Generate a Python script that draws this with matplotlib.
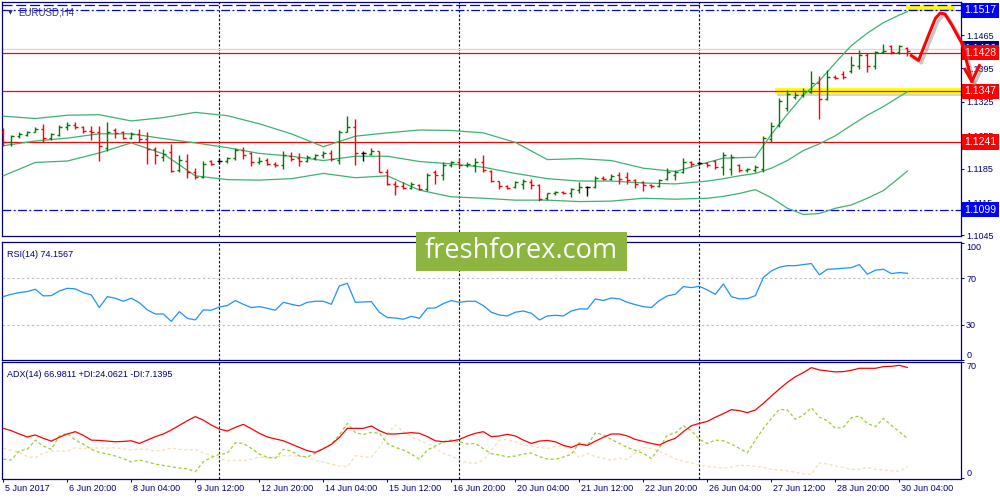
import matplotlib
matplotlib.use("Agg")
import matplotlib.pyplot as plt
import matplotlib.patheffects as pe
from matplotlib.patches import Rectangle
from matplotlib.transforms import blended_transform_factory, ScaledTranslation

plt.rcParams['font.family'] = ['Liberation Sans', 'DejaVu Sans']

# EURUSD H4, one value per bar, bar 0 = 5 Jun 2017 12:00
opens = [1.1262, 1.1240, 1.1254, 1.1256, 1.1262, 1.1268, 1.1250, 1.1256, 1.1272, 1.1277,
         1.1272, 1.1264, 1.1261, 1.1228, 1.1267, 1.1261, 1.1250, 1.1257, 1.1248, 1.1227,
         1.1209, 1.1220, 1.1182, 1.1202, 1.1177, 1.1168, 1.1200, 1.1202, 1.1202, 1.1207,
         1.1225, 1.1217, 1.1198, 1.1204, 1.1195, 1.1193, 1.1211, 1.1207, 1.1202, 1.1207,
         1.1213, 1.1218, 1.1204, 1.1262, 1.1272, 1.1218, 1.1216, 1.1221, 1.1179, 1.1153,
         1.1149, 1.1145, 1.1150, 1.1142, 1.1177, 1.1171, 1.1192, 1.1198, 1.1192, 1.1193,
         1.1199, 1.1180, 1.1159, 1.1149, 1.1147, 1.1153, 1.1157, 1.1150, 1.1123, 1.1133,
         1.1136, 1.1135, 1.1140, 1.1147, 1.1147, 1.1166, 1.1163, 1.1171, 1.1168, 1.1161,
         1.1156, 1.1151, 1.1149, 1.1163, 1.1171, 1.1178, 1.1198, 1.1196, 1.1196, 1.1200,
         1.1188, 1.1185, 1.1192, 1.1182, 1.1182, 1.1185, 1.1247, 1.1277, 1.1313, 1.1336,
         1.1339, 1.1346, 1.1365, 1.1332, 1.1378, 1.1384, 1.1389, 1.1401, 1.1424, 1.1400,
         1.1429, 1.1441, 1.1429, 1.1438]
highs = [1.1271, 1.1255, 1.1262, 1.1264, 1.1273, 1.1278, 1.1260, 1.1277, 1.1283, 1.1282,
         1.1275, 1.1275, 1.1275, 1.1282, 1.1271, 1.1264, 1.1261, 1.1268, 1.1261, 1.1230,
         1.1227, 1.1237, 1.1214, 1.1216, 1.1187, 1.1201, 1.1204, 1.1207, 1.1210, 1.1228,
         1.1230, 1.1220, 1.1209, 1.1207, 1.1199, 1.1223, 1.1220, 1.1218, 1.1213, 1.1216,
         1.1221, 1.1225, 1.1267, 1.1296, 1.1290, 1.1222, 1.1228, 1.1223, 1.1184, 1.1159,
         1.1157, 1.1156, 1.1153, 1.1175, 1.1182, 1.1199, 1.1201, 1.1207, 1.1199, 1.1207,
         1.1213, 1.1182, 1.1160, 1.1151, 1.1159, 1.1164, 1.1164, 1.1153, 1.1135, 1.1138,
         1.1138, 1.1145, 1.1156, 1.1149, 1.1170, 1.1170, 1.1173, 1.1177, 1.1177, 1.1164,
         1.1159, 1.1153, 1.1164, 1.1187, 1.1182, 1.1207, 1.1202, 1.1200, 1.1199, 1.1204,
         1.1220, 1.1216, 1.1195, 1.1187, 1.1193, 1.1254, 1.1283, 1.1334, 1.1350, 1.1345,
         1.1355, 1.1389, 1.1380, 1.1391, 1.1382, 1.1389, 1.1421, 1.1434, 1.1427, 1.1431,
         1.1447, 1.1445, 1.1445, 1.1440]
lows = [1.1233, 1.1232, 1.1250, 1.1253, 1.1261, 1.1240, 1.1244, 1.1254, 1.1267, 1.1268,
        1.1260, 1.1244, 1.1202, 1.1223, 1.1250, 1.1247, 1.1247, 1.1240, 1.1194, 1.1194,
        1.1200, 1.1178, 1.1179, 1.1166, 1.1164, 1.1166, 1.1192, 1.1195, 1.1197, 1.1203,
        1.1206, 1.1190, 1.1194, 1.1192, 1.1188, 1.1184, 1.1200, 1.1190, 1.1199, 1.1204,
        1.1207, 1.1201, 1.1195, 1.1261, 1.1192, 1.1202, 1.1213, 1.1177, 1.1150, 1.1129,
        1.1142, 1.1142, 1.1140, 1.1138, 1.1153, 1.1162, 1.1188, 1.1188, 1.1188, 1.1179,
        1.1177, 1.1156, 1.1143, 1.1142, 1.1145, 1.1142, 1.1142, 1.1118, 1.1119, 1.1129,
        1.1131, 1.1126, 1.1135, 1.1128, 1.1145, 1.1161, 1.1161, 1.1153, 1.1153, 1.1145,
        1.1138, 1.1145, 1.1147, 1.1161, 1.1161, 1.1175, 1.1188, 1.1192, 1.1188, 1.1184,
        1.1171, 1.1171, 1.1177, 1.1178, 1.1179, 1.1179, 1.1241, 1.1272, 1.1306, 1.1330,
        1.1336, 1.1343, 1.1290, 1.1329, 1.1373, 1.1373, 1.1385, 1.1394, 1.1387, 1.1394,
        1.1427, 1.1426, 1.1426, 1.1422]
closes = [1.1240, 1.1254, 1.1257, 1.1261, 1.1268, 1.1250, 1.1257, 1.1272, 1.1277, 1.1272,
          1.1263, 1.1261, 1.1233, 1.1261, 1.1260, 1.1250, 1.1257, 1.1248, 1.1227, 1.1213,
          1.1216, 1.1180, 1.1204, 1.1177, 1.1168, 1.1195, 1.1195, 1.1202, 1.1207, 1.1225,
          1.1214, 1.1198, 1.1202, 1.1195, 1.1192, 1.1213, 1.1206, 1.1202, 1.1209, 1.1213,
          1.1218, 1.1206, 1.1261, 1.1272, 1.1218, 1.1218, 1.1221, 1.1179, 1.1153, 1.1149,
          1.1145, 1.1153, 1.1142, 1.1172, 1.1172, 1.1192, 1.1198, 1.1193, 1.1195, 1.1198,
          1.1182, 1.1159, 1.1149, 1.1145, 1.1156, 1.1159, 1.1151, 1.1121, 1.1133, 1.1136,
          1.1133, 1.1142, 1.1147, 1.1147, 1.1166, 1.1163, 1.1170, 1.1164, 1.1161, 1.1153,
          1.1150, 1.1149, 1.1161, 1.1179, 1.1178, 1.1199, 1.1195, 1.1196, 1.1192, 1.1188,
          1.1213, 1.1209, 1.1182, 1.1184, 1.1188, 1.1249, 1.1275, 1.1327, 1.1341, 1.1339,
          1.1348, 1.1365, 1.1332, 1.1377, 1.1375, 1.1377, 1.1403, 1.1424, 1.1401, 1.1429,
          1.1431, 1.1429, 1.1441, 1.1431]

# Bollinger bands, read at selected bars
band_bars = list(range(0, 88, 4)) + list(range(88, 113, 2)) + [113]
bb_upper = [1.1295, 1.1290, 1.1297, 1.1298, 1.1285, 1.1292, 1.1303, 1.1296, 1.1279, 1.1258,
            1.1231, 1.1253, 1.1260, 1.1266, 1.1265, 1.1260, 1.1240, 1.1204, 1.1206, 1.1202,
            1.1186, 1.1179, 1.1198, 1.1207, 1.1208, 1.1209, 1.1257, 1.1299, 1.1339, 1.1369,
            1.1407, 1.1443, 1.1469, 1.1491, 1.1507, 1.1514]
bb_middle = [1.1233, 1.1243, 1.1249, 1.1258, 1.1258, 1.1248, 1.1239, 1.1229, 1.1217, 1.1211,
             1.1202, 1.1211, 1.1211, 1.1200, 1.1195, 1.1188, 1.1175, 1.1164, 1.1159, 1.1159,
             1.1155, 1.1153, 1.1159, 1.1164, 1.1170, 1.1175, 1.1186, 1.1202, 1.1223, 1.1237,
             1.1254, 1.1276, 1.1297, 1.1315, 1.1336, 1.1346]
bb_lower = [1.1170, 1.1198, 1.1201, 1.1218, 1.1239, 1.1216, 1.1170, 1.1162, 1.1161, 1.1164,
            1.1175, 1.1166, 1.1170, 1.1140, 1.1126, 1.1123, 1.1119, 1.1119, 1.1116, 1.1117,
            1.1123, 1.1121, 1.1123, 1.1127, 1.1133, 1.1141, 1.1124, 1.1102, 1.1089, 1.1091,
            1.1102, 1.1109, 1.1123, 1.1139, 1.1166, 1.1180]

rsi = [54.3, 56.3, 57.7, 58.6, 60.6, 54.9, 55.1, 59.1, 61.4, 60.9,
       57.7, 55.7, 44.9, 54.3, 52.9, 50.3, 52.9, 49.1, 42.9, 39.4,
       39.4, 33.1, 41.4, 35.7, 34.3, 42.9, 42.6, 45.4, 46.6, 50.9,
       47.7, 44.9, 45.7, 44.3, 42.6, 49.4, 47.7, 46.3, 49.4, 50.3,
       50.3, 47.7, 63.4, 65.7, 49.4, 49.7, 50.0, 40.9, 36.3, 36.0,
       34.9, 37.4, 35.7, 44.3, 44.6, 48.3, 50.9, 49.4, 50.3, 50.3,
       46.6, 40.9, 38.6, 37.7, 40.9, 42.0, 40.0, 34.3, 37.7, 38.3,
       37.7, 42.0, 43.7, 43.7, 52.3, 50.9, 53.1, 52.3, 49.4, 47.4,
       45.7, 44.9, 50.9, 54.9, 56.3, 62.9, 62.0, 63.1, 60.0, 56.3,
       65.1, 54.3, 52.3, 52.6, 55.1, 70.6, 76.3, 79.4, 80.8, 80.8,
       81.7, 82.6, 72.9, 77.7, 78.0, 78.6, 79.1, 81.7, 73.4, 76.9,
       77.7, 74.0, 74.9, 74.2]

adx = [30.2, 28.8, 26.8, 25.0, 26.2, 24.2, 22.5, 24.8, 26.8, 28.2,
       26.0, 23.1, 22.9, 22.5, 22.1, 22.3, 22.7, 21.1, 23.1, 25.2,
       26.8, 29.2, 32.0, 34.8, 37.3, 35.2, 32.2, 29.8, 28.6, 30.8,
       32.6, 30.0, 27.2, 25.0, 23.8, 22.7, 20.7, 18.7, 16.7, 15.7,
       17.9, 20.5, 24.7, 30.2, 30.2, 30.2, 31.6, 28.8, 26.8, 26.8,
       27.2, 27.6, 27.2, 25.2, 22.7, 22.1, 22.5, 23.5, 25.6, 27.2,
       28.2, 25.2, 25.6, 26.6, 25.6, 23.1, 21.1, 22.5, 22.9, 22.1,
       19.9, 18.7, 20.7, 19.9, 22.5, 24.8, 26.8, 26.8, 25.6, 23.5,
       22.3, 21.1, 20.1, 22.5, 24.2, 28.2, 31.8, 33.2, 34.4, 36.9,
       39.1, 41.5, 40.9, 39.7, 41.3, 45.3, 49.7, 54.0, 58.0, 61.4,
       63.9, 66.9, 65.5, 64.9, 64.3, 64.5, 65.3, 66.5, 66.5, 66.5,
       67.5, 67.7, 68.3, 67.0]
plus_di = [11.5, 11.1, 16.7, 17.5, 23.1, 19.5, 17.5, 25.6, 27.2, 23.1,
           20.7, 17.5, 15.7, 14.7, 13.5, 11.9, 9.9, 11.1, 9.9, 8.6,
           7.8, 7.0, 6.2, 5.8, 4.0, 10.0, 12.7, 14.5, 15.1, 21.5,
           21.1, 18.1, 14.7, 12.7, 12.1, 17.5, 16.5, 13.5, 12.9, 15.1,
           18.1, 20.7, 26.2, 33.2, 27.6, 26.4, 27.8, 27.2, 21.1, 18.7,
           17.1, 14.7, 11.5, 17.1, 19.5, 22.1, 23.1, 22.1, 20.7, 21.1,
           17.9, 14.9, 14.1, 12.9, 13.5, 14.7, 15.3, 13.1, 11.7, 11.5,
           12.9, 14.5, 21.5, 19.9, 27.6, 26.2, 23.5, 21.1, 18.7, 16.9,
           15.1, 11.9, 18.3, 26.2, 27.4, 31.8, 28.8, 23.5, 21.1, 23.1,
           22.7, 20.7, 18.1, 15.5, 23.1, 30.2, 36.2, 41.7, 41.3, 35.6,
           38.3, 42.7, 36.9, 34.8, 30.2, 30.8, 36.6, 37.7, 33.2, 31.2,
           36.2, 32.0, 28.2, 24.1]
minus_di = [18.1, 16.9, 15.9, 13.1, 12.5, 15.3, 16.3, 16.5, 16.5, 18.5,
            17.9, 18.3, 18.3, 18.3, 18.5, 17.9, 17.1, 17.7, 17.5, 16.5,
            17.1, 18.3, 17.5, 17.1, 17.5, 15.5, 13.7, 12.3, 10.5, 10.9,
            10.7, 11.5, 12.9, 12.3, 12.9, 13.7, 13.7, 13.3, 12.5, 10.7,
            9.9, 8.6, 7.4, 7.0, 13.7, 13.1, 12.7, 18.7, 26.8, 32.2,
            28.2, 25.0, 23.1, 21.1, 18.1, 15.1, 13.5, 11.3, 9.4, 9.0,
            11.0, 17.1, 23.1, 23.5, 22.1, 20.1, 19.5, 18.7, 18.1, 19.3,
            19.5, 17.7, 12.5, 15.1, 13.1, 12.1, 10.9, 12.1, 11.5, 15.5,
            18.5, 18.1, 16.3, 14.1, 11.7, 10.3, 9.3, 8.2, 7.2, 6.8,
            6.2, 6.8, 7.8, 7.8, 7.2, 6.6, 5.4, 5.0, 4.6, 3.6,
            2.8, 2.4, 9.4, 8.6, 7.4, 6.6, 5.4, 5.4, 6.6, 5.4,
            5.0, 4.6, 4.2, 7.1]

date_labels = ['5 Jun 2017', '6 Jun 20:00', '8 Jun 04:00', '9 Jun 12:00', '12 Jun 20:00',
               '14 Jun 04:00', '15 Jun 12:00', '16 Jun 20:00', '20 Jun 04:00', '21 Jun 12:00',
               '22 Jun 20:00', '26 Jun 04:00', '27 Jun 12:00', '28 Jun 20:00', '30 Jun 04:00']
week_starts = [27, 57, 87]
price_ticks = [1.1045, 1.1115, 1.1185, 1.1255, 1.1325, 1.1395, 1.1465]

red_levels = [1.1428, 1.1347, 1.1241]
blue_levels = [1.1517, 1.1099]
ask_price = 1.1436
top_level = 1.1528

# hand-drawn forecast arrow (bar, price)
arrow_bars = [113.5, 114.4, 115.75, 116.5, 117.1, 117.7, 118.55, 119.8, 121.05]
arrow_prices = [1.1422, 1.1412, 1.1469, 1.1500, 1.1511, 1.1509, 1.1486, 1.1448, 1.1368]
arrow_head_bars = [120.2, 121.05, 122.0]
arrow_head_prices = [1.1393, 1.1368, 1.1401]

NAVY = '#000080'
W, H = 1000, 500
fig = plt.figure(figsize=(10, 5), dpi=100)


def panel(top, bottom):
    return fig.add_axes([2.3 / W, 1 - bottom / H, (961 - 2.3) / W, (bottom - top) / H])


ax_p = panel(2.3, 235.7)
ax_r = panel(241.7, 360.0)
ax_a = panel(362.0, 478.5)

n = len(closes)
bars = list(range(n))
for ax in (ax_p, ax_r, ax_a):
    ax.set_xlim(-0.125, 119.7)
    for s in ax.spines.values():
        s.set_color(NAVY)
        s.set_linewidth(0.9)
    ax.yaxis.tick_right()
    ax.tick_params(axis='y', direction='out', length=2.2, width=0.7, color=NAVY,
                   labelcolor=NAVY, labelsize=6.5, pad=1.5)
    ax.tick_params(axis='x', bottom=False, labelbottom=False)
    for k in week_starts:
        ax.axvline(k, color=NAVY, lw=0.8, dashes=(2.2, 1.6), zorder=1)

# ---- price panel
ax_p.set_ylim(1.10445, 1.15336)
ax_p.set_yticks(price_ticks)
ax_p.set_yticklabels([f'{v:.4f}' for v in price_ticks])

ax_p.axhline(ask_price, color='#d9d9d9', lw=1.0, zorder=1)
for lv in red_levels:
    ax_p.axhline(lv, color='red', lw=0.9, zorder=2)
for lv in blue_levels:
    ax_p.axhline(lv, color='blue', lw=0.9, dashes=(7, 2, 1.5, 2), zorder=2)
ax_p.axhline(top_level, color='blue', lw=0.9, dashes=(8, 3), zorder=2)

shadow = [pe.SimpleLineShadow(offset=(1.5, -1.5), shadow_color='gray', alpha=0.35), pe.Normal()]
ax_p.hlines(red_levels[1], 96.5, 119.7, color='yellow', lw=4.2, zorder=1.5, path_effects=shadow)
ax_p.hlines(1.1524, 112.8, 118.7, color='yellow', lw=3.0, zorder=1.5, path_effects=shadow)

for band in (bb_upper, bb_middle, bb_lower):
    ax_p.plot(band_bars, band, color='#3cb371', lw=0.9, zorder=3)

cols = ['#007a00' if c > o else ('#ff0000' if c < o else 'black') for o, c in zip(opens, closes)]
ax_p.vlines(bars, lows, highs, colors=cols, lw=1.0, zorder=4)
ax_p.hlines(opens, [b - 0.32 for b in bars], bars, colors=cols, lw=1.0, zorder=4)
ax_p.hlines(closes, bars, [b + 0.32 for b in bars], colors=cols, lw=1.0, zorder=4)

arrow_fx = [pe.SimpleLineShadow(offset=(2, -2), shadow_color='gray', alpha=0.45), pe.Normal()]
ax_p.plot(arrow_bars, arrow_prices, color='red', lw=2.2, clip_on=False, zorder=10,
          solid_joinstyle='round', path_effects=arrow_fx)
ax_p.plot(arrow_head_bars, arrow_head_prices, color='red', lw=2.2, clip_on=False, zorder=10,
          solid_joinstyle='round', path_effects=arrow_fx)

tr = blended_transform_factory(ax_p.transAxes, ax_p.transData)
boxes = [(ask_price, NAVY), (blue_levels[0], 'blue'), (red_levels[0], 'red'),
         (red_levels[1], 'red'), (red_levels[2], 'red'), (blue_levels[1], 'blue')]
for lv, c in boxes:
    ax_p.text(1.0035, lv, f'{lv:.4f}', transform=tr, color='white', fontsize=7.5,
              va='center', ha='left', clip_on=False, zorder=8,
              bbox=dict(boxstyle='square,pad=0.25', fc=c, ec='none'))

ax_p.text(0.006, 0.957, '\u25bc', transform=ax_p.transAxes, fontsize=4.5, color='#333366',
          va='center', family='DejaVu Sans')
ax_p.text(0.017, 0.955, 'EURUSD,H4', transform=ax_p.transAxes, fontsize=7, color='#303080',
          va='center')

# ---- RSI panel
ax_r.set_ylim(0, 101.3)
ax_r.plot(bars, rsi, color='#1e90ff', lw=0.9, zorder=3)
for lv in (70, 30):
    ax_r.axhline(lv, color='#c0c0c0', lw=0.8, dashes=(2.2, 2.2), zorder=1)
ax_r.set_yticks([0, 30, 70, 100])
ax_r.set_yticklabels(['0', '30', '70', '100'])
ax_r.get_yticklabels()[0].set_va('bottom')
ax_r.get_yticklabels()[3].set_va('top')
ax_r.text(0.005, 0.93, f'RSI(14) {rsi[-1]:.4f}'.replace('74.2000', '74.1567'),
          transform=ax_r.transAxes, fontsize=6.5, color=NAVY, va='top')

# ---- ADX panel
ax_a.set_ylim(-0.1, 70.3)
ax_a.plot(bars, minus_di, color='#f5deb3', lw=0.9, dashes=(2.5, 2), zorder=2)
ax_a.plot(bars, plus_di, color='#9acd32', lw=0.9, dashes=(2.5, 2), zorder=2)
ax_a.plot(bars, adx, color='red', lw=0.9, zorder=3)
ax_a.set_yticks([0, 70])
ax_a.set_yticklabels(['0', '70'])
ax_a.get_yticklabels()[0].set_va('bottom')
ax_a.get_yticklabels()[1].set_va('top')
ax_a.text(0.005, 0.93, 'ADX(14) 66.9811 +DI:24.0621 -DI:7.1395', transform=ax_a.transAxes,
          fontsize=6.5, color=NAVY, va='top')

ax_a.set_xticks(list(range(0, n, 8)))
ax_a.set_xticklabels(date_labels)
ax_a.tick_params(axis='x', bottom=True, labelbottom=True, direction='out', length=2.2,
                 width=0.7, color=NAVY, labelcolor=NAVY, labelsize=6.5, pad=1.5)
shift = ScaledTranslation(1.5 / 72, 0, fig.dpi_scale_trans)
for lab in ax_a.get_xticklabels():
    lab.set_ha('left')
    lab.set_transform(lab.get_transform() + shift)

# ---- watermark
fig.add_artist(Rectangle((416 / W, 1 - 271 / H), 211 / W, 39 / H, transform=fig.transFigure,
                         fc='#8db640', ec='none', zorder=20))
fig.text(521.5 / W, 1 - 251 / H, 'freshforex.com', color='white', fontsize=19.5,
         family=['Open Sans', 'DejaVu Sans'], ha='center', va='center', zorder=21)

fig.savefig('out.png', dpi=100)
